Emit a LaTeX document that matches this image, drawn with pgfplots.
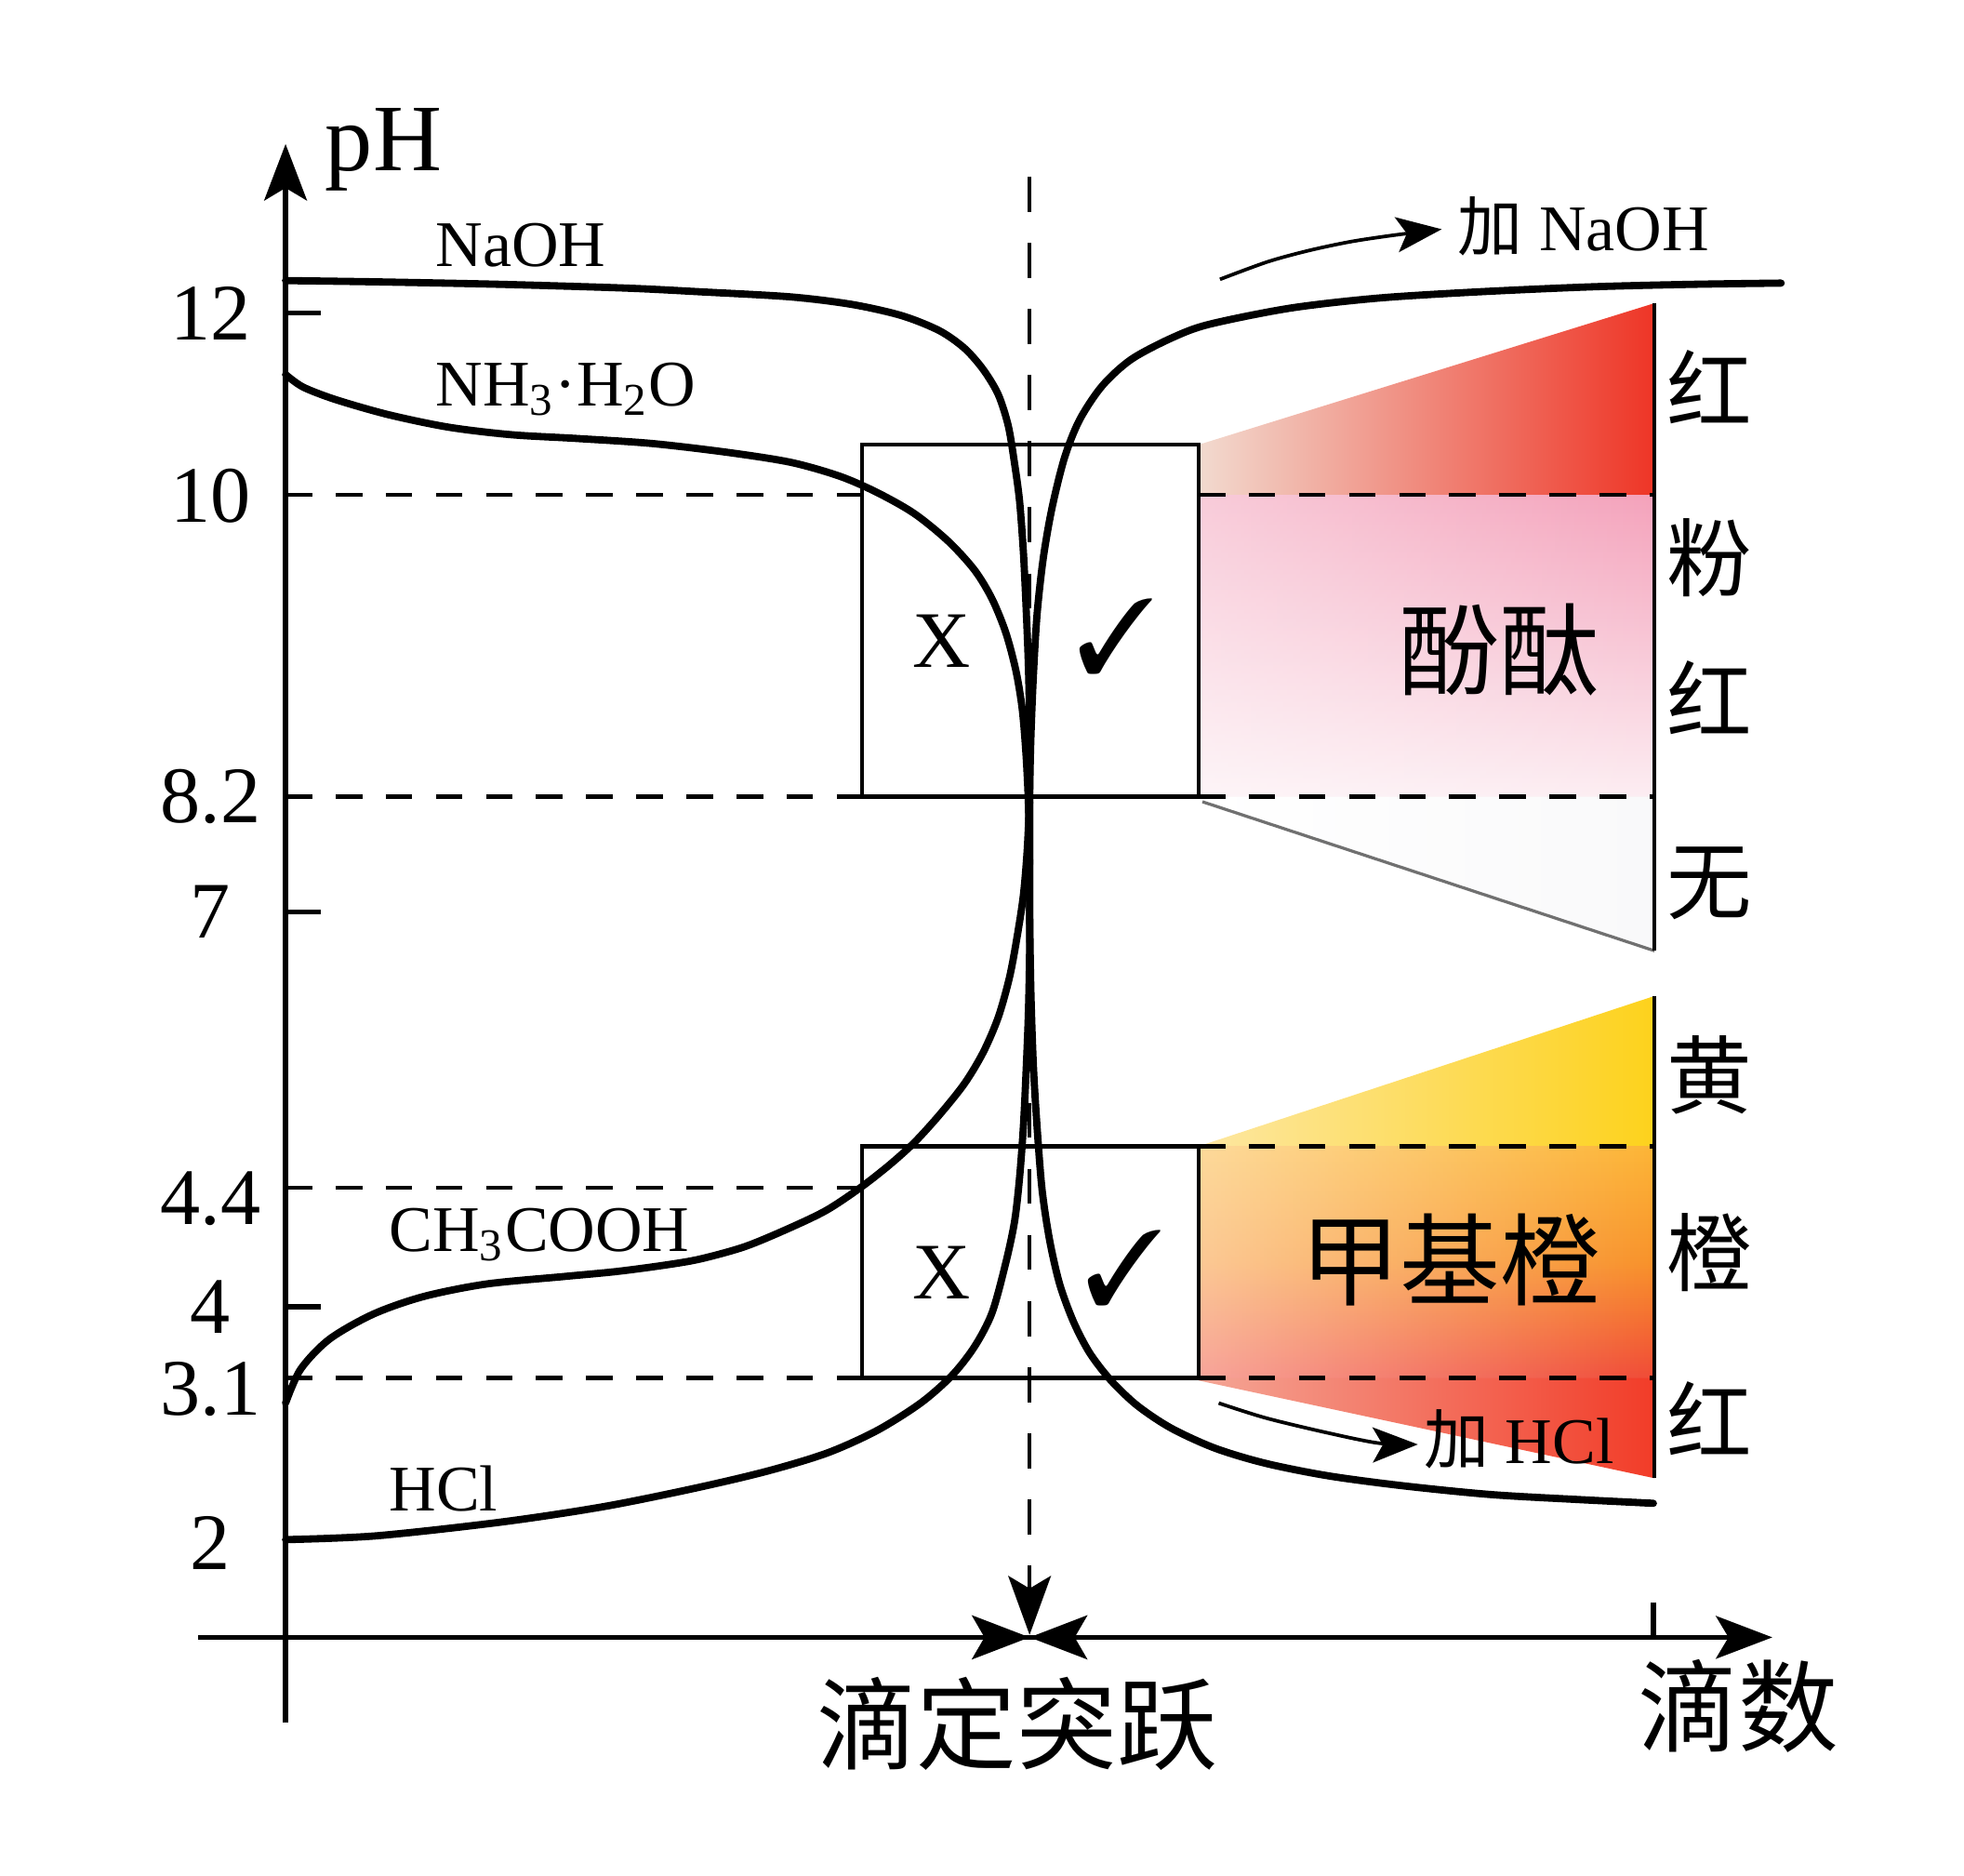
\documentclass[border=0pt]{standalone}
\usepackage{pgfplots}
\pgfplotsset{compat=1.18}
\usepackage{fontspec}
\setmainfont{Liberation Serif}
\newfontfamily\cjk{Noto Sans CJK SC}
\usepackage{pifont}
\usetikzlibrary{arrows.meta,fadings}

\definecolor{peach}{HTML}{F2DACF}
\definecolor{redmid}{HTML}{EC8A78}
\definecolor{redA}{HTML}{EE3526}
\definecolor{pinkTop}{HTML}{F4A2BB}
\definecolor{pinkBot}{HTML}{FCEDF2}
\definecolor{yelL}{HTML}{FDE7A2}
\definecolor{yelR}{HTML}{FDD21C}
\definecolor{orTop}{HTML}{FCB536}
\definecolor{orMid}{HTML}{F8922A}
\definecolor{orBot}{HTML}{F04A36}
\definecolor{salmon}{HTML}{F4A696}
\definecolor{redB}{HTML}{F23C28}
\definecolor{slant}{HTML}{707070}
\definecolor{wr}{HTML}{F9F9FA}

\pgfdeclareverticalshading{moband}{100bp}{color(0bp)=(orBot); color(25bp)=(orBot); color(50bp)=(orMid); color(75bp)=(orTop); color(100bp)=(orTop)}

\tikzset{
  curve/.style={line width=1.45pt, smooth, tension=0.5, line join=round, line cap=round},
  hdash/.style={line width=0.8pt, dash pattern=on 5.3pt off 4.7pt},
  boxl/.style={line width=0.8pt},
  ahead/.style={-{Stealth[length=11.5pt,width=8.75pt,inset=2.5pt]}},
  lab/.style={anchor=base west, inner sep=0pt, font=\fontsize{13}{13}\selectfont},
  cjkbig/.style={inner sep=0pt, font=\fontsize{20}{20}\selectfont\cjk},
  cjkside/.style={inner sep=0pt, font=\fontsize{17}{17}\selectfont\cjk},
}

\begin{document}
\begin{tikzpicture}
\begin{axis}[
  scale only axis, width=314.25pt, height=315pt,
  xmin=-70, xmax=1187, ymin=-68, ymax=1192,
  axis lines=middle,
  axis line style={line width=1.05pt, -{Stealth[length=11.25pt,width=8.5pt,inset=2.5pt]}},
  clip=false,
  tick align=inside,
  major tick length=7pt,
  tick style={line width=1pt, black},
  xtick={1092}, xticklabels={},
  ytick={1057,579,264}, yticklabels={12,7,4},
  extra y ticks={911,671,350,198,75},
  extra y tick labels={10,8.2,4.4,3.1,2},
  extra y tick style={major tick length=0pt},
  yticklabel style={font=\fontsize{16}{16}\selectfont, anchor=center, xshift=-15pt},
  /pgf/number format/assume math mode=true,
]
% page extent
\path (axis cs:-228,-190) rectangle (axis cs:1340,1307);

% ---- coloured indicator panels ----
\addplot[draw=none, left color=peach, middle color=redmid, right color=redA]
  coordinates {(729,952) (1093,1065) (1093,912) (729,912)};
\addplot[draw=none, top color=pinkTop, bottom color=pinkBot]
  coordinates {(729,912) (1093,912) (1093,671) (729,671)};
\addplot[draw=none, fill=white, fill opacity=0.45, path fading=east]
  coordinates {(729,912) (1093,912) (1093,671) (729,671)};
\addplot[draw=none, left color=white, right color=wr]
  coordinates {(729,671) (1093,671) (1093,548) (732,667)};
\addplot[slant, line width=0.6pt] coordinates {(732,667) (1093,548)};

\addplot[draw=none, left color=yelL, right color=yelR]
  coordinates {(729,392) (1093,512) (1093,392)};
\addplot[draw=none, shading=moband]
  coordinates {(729,392) (1093,392) (1093,207) (729,207)};
\addplot[draw=none, fill=white, fill opacity=0.5, path fading=east]
  coordinates {(729,392) (1093,392) (1093,207) (729,207)};
\addplot[draw=none, left color=salmon, right color=redB]
  coordinates {(729,207) (1093,207) (1093,127) (729,205)};

% ---- dashed reference lines ----
\addplot[hdash] coordinates {(0,912) (460,912)};
\addplot[hdash] coordinates {(0,671) (460,671)};
\addplot[hdash] coordinates {(0,359) (460,359)};
\addplot[hdash] coordinates {(0,207) (460,207)};
\addplot[hdash] coordinates {(729,912) (1093,912)};
\addplot[hdash] coordinates {(729,671) (1093,671)};
\addplot[hdash] coordinates {(729,392) (1093,392)};
\addplot[hdash] coordinates {(729,207) (1093,207)};

% right edges of panels
\addplot[line width=0.8pt] coordinates {(1093,1065) (1093,548)};
\addplot[line width=0.8pt] coordinates {(1093,512) (1093,127)};

% boxes
\addplot[boxl] coordinates {(460,671) (729,671) (729,952) (460,952) (460,671)};
\addplot[boxl] coordinates {(460,207) (729,207) (729,392) (460,392) (460,207)};

% vertical dashed line with arrow
\addplot[line width=0.8pt, dash pattern=on 7pt off 6.2pt, -{Stealth[length=11.75pt,width=8.5pt,inset=2.5pt]}]
  coordinates {(594,1166) (594,2)};
\addplot[line width=1pt, ahead] coordinates {(530,0) (594,0)};
\addplot[line width=1pt, ahead] coordinates {(660,0) (594,0)};

% ---- titration curves ----
% NaOH titrated with HCl
\addplot[curve] coordinates {(0,1083) (72,1082) (172,1080) (272,1077) (332,1074) (403,1070) (452,1064) (492,1055) (522,1043) (542,1029) (557,1012) (569,992) (577,967) (582,937) (586,907) (589,867) (591,827) (593,777) (594,727) (594,657) (594,587) (595,517) (597,457) (600,407) (604,357) (610,317) (618,282) (629,252) (642,227) (659,205) (680,185) (707,167) (742,151) (782,139) (832,129) (892,121) (962,114) (1032,110) (1092,107)};
% HCl titrated with NaOH
\addplot[curve] coordinates {(0,78) (72,81) (172,92) (252,104) (322,118) (382,132) (432,147) (472,165) (507,187) (532,209) (550,232) (564,259) (575,299) (582,332) (586,367) (589,407) (591,447) (593,497) (594,547) (594,607) (594,667) (595,717) (597,767) (600,817) (605,862) (612,902) (622,942) (634,972) (652,999) (675,1020) (707,1037) (737,1048) (802,1061) (872,1069) (952,1074) (1042,1078) (1122,1080) (1194,1081)};
% NH3.H2O
\addplot[curve] coordinates {(0,1008) (14,998) (40,988) (82,976) (130,966) (180,960) (232,957) (292,953) (352,946) (403,938) (442,927) (472,914) (502,897) (529,875) (550,852) (564,829) (575,802) (583,772) (588,742) (591,707) (593,667) (594,617)};
% CH3COOH
\addplot[curve] coordinates {(0,187) (12,214) (35,238) (70,258) (110,272) (160,282) (222,288) (264,292) (302,297) (331,302) (367,312) (403,327) (432,341) (459,359) (482,377) (502,395) (522,417) (542,442) (557,467) (569,495) (578,527) (584,559) (589,592) (592,627) (594,667)};

% curved arrows
\addplot[line width=0.7pt, smooth, -{Stealth[length=9pt,width=7pt,inset=2pt]}]
  coordinates {(746,1084) (784,1098) (817,1107) (850,1114) (883,1119) (923,1124)};
\addplot[line width=0.7pt, smooth, -{Stealth[length=9pt,width=7pt,inset=2pt]}]
  coordinates {(745,187) (783,175) (833,163) (873,155) (904,154)};

% ---- texts ----
\node[anchor=base west, inner sep=0pt, font=\fontsize{19}{19}\selectfont] at (axis cs:31,1171) {pH};
\node[lab] at (axis cs:119,1094) {NaOH};
\node[lab] at (axis cs:119,983) {NH\textsubscript{3}\textperiodcentered H\textsubscript{2}O};
\node[lab] at (axis cs:82,308) {CH\textsubscript{3}COOH};
\node[lab] at (axis cs:82,101) {HCl};
\node[lab] at (axis cs:935,1107) {{\cjk 加} NaOH};
\node[lab] at (axis cs:908,139) {{\cjk 加} HCl};

\node[inner sep=0pt, font=\fontsize{16}{16}\selectfont] at (axis cs:524,795) {X};
\node[inner sep=0pt, font=\fontsize{16}{16}\selectfont] at (axis cs:524,291) {X};
\node[inner sep=0pt, font=\fontsize{21}{21}\selectfont] at (axis cs:663,799) {\ding{51}};
\node[inner sep=0pt, font=\fontsize{21}{21}\selectfont] at (axis cs:670,295) {\ding{51}};

\node[cjkbig] at (axis cs:969,788) {酚酞};
\node[cjkbig] at (axis cs:930,301) {甲基橙};
\node[cjkbig] at (axis cs:584,-69) {滴定突跃};
\node[cjkbig] at (axis cs:1160,-55) {滴数};

\node[cjkside] at (axis cs:1137,998) {红};
\node[cjkside] at (axis cs:1137,862) {粉};
\node[cjkside] at (axis cs:1137,750) {红};
\node[cjkside] at (axis cs:1137,602) {无};
\node[cjkside] at (axis cs:1137,449) {黄};
\node[cjkside] at (axis cs:1137,307) {橙};
\node[cjkside] at (axis cs:1137,175) {红};
\end{axis}
\end{tikzpicture}
\end{document}
